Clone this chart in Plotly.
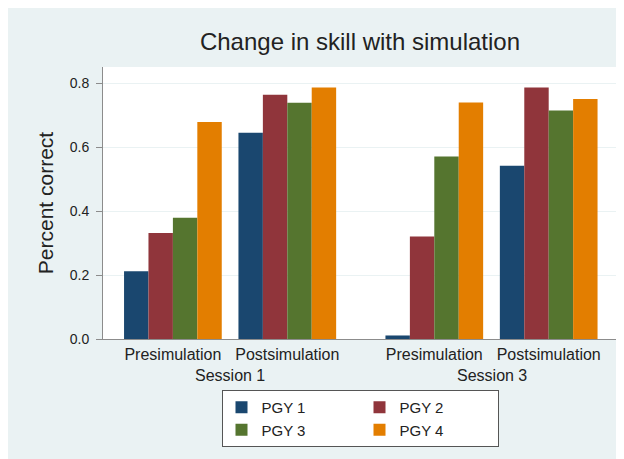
import plotly.graph_objects as go

# ---- data ----
phases = ["Presimulation", "Postsimulation", "Presimulation", "Postsimulation"]
sessions = ["Session 1", "Session 3"]
series_names = ["PGY 1", "PGY 2", "PGY 3", "PGY 4"]
pgy1 = [0.212, 0.645, 0.011, 0.542]
pgy2 = [0.332, 0.764, 0.321, 0.787]
pgy3 = [0.379, 0.739, 0.571, 0.715]
pgy4 = [0.679, 0.787, 0.740, 0.751]
yticks = [0.0, 0.2, 0.4, 0.6, 0.8]
ytick_text = ["0.0", "0.2", "0.4", "0.6", "0.8"]

# ---- layout helpers ----
group_pos = [0, 1, 2.285, 3.285]          # x centre of each bar group
session_pos = [(group_pos[0] + group_pos[1]) / 2, (group_pos[2] + group_pos[3]) / 2]
colors = ["#1a476f", "#90353b", "#55752f", "#e37e00"]
legend_groups = ["a", "b", "a", "b"]
FONT = "Liberation Sans, Arial, sans-serif"
TXT = "#222222"
BG = "#eaf2f3"
W, H = 616, 451

fig = go.Figure()
for name, vals, col, lg in zip(series_names, [pgy1, pgy2, pgy3, pgy4], colors, legend_groups):
    fig.add_trace(go.Bar(
        x=group_pos, y=vals, name=name, legendgroup=lg,
        marker=dict(color=col, line=dict(width=0)),
    ))

annotations = [
    dict(x=sx, y=0, xref="x", yref="paper", text=s, showarrow=False,
         yanchor="top", yshift=-26, font=dict(family=FONT, size=16, color=TXT))
    for sx, s in zip(session_pos, sessions)
]

fig.update_layout(
    width=W, height=H,
    margin=dict(l=95, r=7, t=59, b=120),
    paper_bgcolor=BG, plot_bgcolor="white",
    barmode="group", bargap=0.146, bargroupgap=0,
    font=dict(family=FONT, color=TXT),
    title=dict(text="Change in skill with simulation", x=0.5, xref="paper",
               y=1 - 34 / H, yref="container", yanchor="middle",
               font=dict(family=FONT, size=24, color=TXT)),
    xaxis=dict(range=[-0.611, 3.882], tickvals=group_pos, ticktext=phases,
               showgrid=False, zeroline=False, showline=True, linecolor="#8c8c8c",
               linewidth=1, ticks="outside", ticklen=1, tickcolor="rgba(0,0,0,0)",
               tickfont=dict(family=FONT, size=16, color=TXT)),
    yaxis=dict(range=[0, 0.851], tickvals=yticks, ticktext=ytick_text,
               showgrid=True, gridcolor=BG, gridwidth=1, zeroline=False,
               showline=True, linecolor="#8c8c8c", linewidth=1,
               ticks="outside", ticklen=6, tickcolor="#8c8c8c",
               ticklabelstandoff=4,
               tickfont=dict(family=FONT, size=14, color=TXT),
               title=dict(text="Percent correct", standoff=10,
                          font=dict(family=FONT, size=21, color=TXT))),
    legend=dict(orientation="h", traceorder="grouped", x=0.5, xanchor="center",
                y=-0.1875, yanchor="top", bgcolor="white", bordercolor="#555555",
                borderwidth=1, tracegroupgap=19, entrywidth=93,
                font=dict(family=FONT, size=15, color=TXT)),
    annotations=annotations,
)

fig.write_html("out.html")
